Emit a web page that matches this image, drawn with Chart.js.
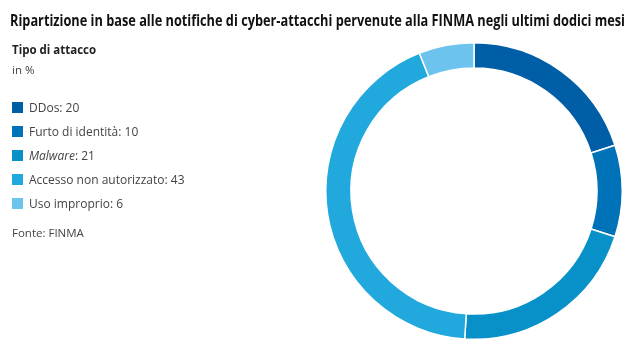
<!DOCTYPE html>
<html>
<head>
<meta charset="utf-8">
<script src="https://cdn.jsdelivr.net/npm/chart.js@4/dist/chart.umd.min.js"></script>
<style>
  html, body { margin: 0; padding: 0; background: #fff; }
  body { width: 640px; height: 352px; position: relative; overflow: hidden; font-family: "Open Sans", sans-serif; color: #333; }
  #title { position: absolute; left: 10px; top: 9px; font-size: 15.5px; font-weight: bold; color: #111; white-space: nowrap; transform-origin: 0 0; }
  #subtitle { position: absolute; left: 12px; top: 42px; font-size: 11.5px; font-weight: bold; color: #222; }
  #unit { position: absolute; left: 12px; top: 62px; font-size: 11.5px; color: #444; }
  #legend { position: absolute; left: 12px; top: 95px; font-size: 12px; color: #444; }
  .item { height: 24px; display: flex; align-items: center; }
  .box { width: 11px; height: 11px; margin-right: 6px; }
  #source { position: absolute; left: 12px; top: 225px; font-size: 11.5px; color: #444; }
  #wrap { position: absolute; left: 0; top: 0; width: 640px; height: 352px; }
</style>
</head>
<body>
<div id="wrap"><canvas id="donut" width="640" height="352"></canvas></div>
<div id="title">Ripartizione in base alle notifiche di cyber-attacchi pervenute alla FINMA negli ultimi dodici mesi</div>
<div id="subtitle">Tipo di attacco</div>
<div id="unit">in %</div>
<div id="legend"></div>
<div id="source">Fonte: FINMA</div>
<script>
  let attackLabels = ["DDos", "Furto di identità", "Malware", "Accesso non autorizzato", "Uso improprio"];
  let attackValues = [20, 10, 21, 43, 6];
  let attackColors = ["#005ea6", "#0072b8", "#0891c9", "#21a9dd", "#6cc3ee"];

  // squeeze the title to the reference width (condensed face not installed)
  let title = document.getElementById("title");
  let titleWidth = title.getBoundingClientRect().width;
  title.style.transform = "scaleX(" + (615 / titleWidth) + ")";

  let legendDiv = document.getElementById("legend");
  attackLabels.forEach(function (label, i) {
    let item = document.createElement("div");
    item.className = "item";
    let box = document.createElement("span");
    box.className = "box";
    box.style.background = attackColors[i];
    let text = document.createElement("span");
    if (label == "Malware") {
      text.innerHTML = "<i>" + label + "</i>: " + attackValues[i];
    } else {
      text.textContent = label + ": " + attackValues[i];
    }
    item.appendChild(box);
    item.appendChild(text);
    legendDiv.appendChild(item);
  });

  new Chart(document.getElementById("donut"), {
    type: "doughnut",
    data: {
      labels: attackLabels,
      datasets: [
        {
          data: attackValues,
          backgroundColor: attackColors,
          borderColor: "#ffffff",
          borderWidth: 1.5,
        },
      ],
    },
    options: {
      responsive: false,
      animation: false,
      cutout: "83%",
      layout: { padding: { left: 325, right: 17, top: 42, bottom: 12 } },
      plugins: {
        legend: { display: false },
        tooltip: { enabled: false },
      },
    },
  });
</script>
</body>
</html>
